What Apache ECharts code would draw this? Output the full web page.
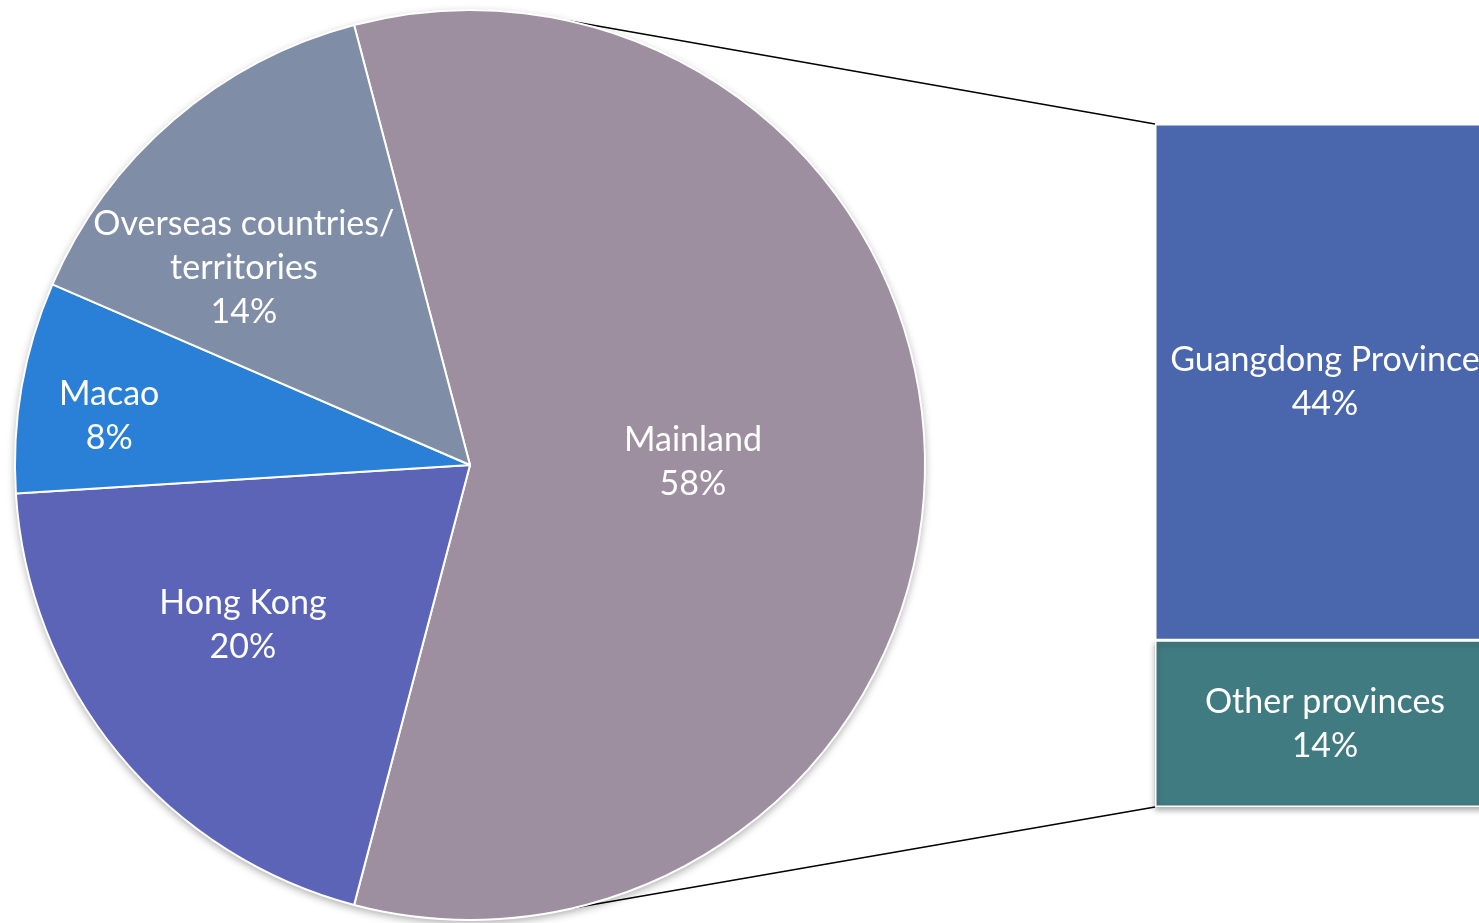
<!DOCTYPE html>
<html><head><meta charset="utf-8">
<script src="https://cdn.jsdelivr.net/npm/echarts@6/dist/echarts.min.js"></script>
<style>html,body{margin:0;padding:0;background:#fff}#c{width:1479px;height:923px}</style>
</head><body><div id="c"></div>
<script>
// ---- data ----
const pieCategories = ['Mainland', 'Hong Kong', 'Macao', 'Overseas countries/\nterritories'];
const pieValues = [58.2, 19.9, 7.5, 14.4];
const barCategories = ['Other provinces', 'Guangdong Province'];
const barValues = [14.2, 44.0];

// ---- styles / layout ----
const W = 1479;
const pieColors = ['#9E8FA0', '#5C64B7', '#2A7FD6', '#7F8DA6'];
const barColors = ['#417B82', '#4A66AD'];
const CX = 470, CY = 465, R = 455;
const labelOffsets = [[0.49, -0.007], [-0.499, 0.352], [-0.793, -0.108], [-0.497, -0.433]];
const BAR_LEFT = 1155, BAR_WIDTH = 340, BAR_TOP = 124, BAR_HEIGHT = 683;
const GRID = { left: 2 * BAR_LEFT + BAR_WIDTH - W, top: BAR_TOP, right: 0, height: BAR_HEIGHT };
const connectorAngles = [12.6, 166.7];
const FONT = 'Lato';
const labelStyle = { color: '#fff', fontFamily: FONT, fontSize: 34, lineHeight: 44 };

const chart = echarts.init(document.getElementById('c'));
const pieTotal = pieValues.reduce((a, b) => a + b, 0);
const barTotal = barValues.reduce((a, b) => a + b, 0);

function piePoint(deg) {
  const a = deg * Math.PI / 180;
  return [CX + R * Math.sin(a), CY - R * Math.cos(a)];
}
const p1 = piePoint(connectorAngles[0]);
const p2 = piePoint(connectorAngles[1]);

const barSeries = barCategories.map((name, i) => ({
  type: 'bar', name: name, stack: 'total', barWidth: BAR_WIDTH, clip: false, z: 3,
  data: [barValues[i]],
  itemStyle: Object.assign({ color: barColors[i], borderColor: '#fff', borderWidth: 1.5 },
    i === 0 ? { shadowBlur: 6, shadowOffsetY: 3, shadowOffsetX: 0, shadowColor: 'rgba(0,0,0,0.35)' } : {}),
  label: Object.assign({ show: true, position: 'inside', formatter: p => p.seriesName + '\n' + Math.round(p.value) + '%' }, labelStyle),
  emphasis: { disabled: true }
}));

chart.setOption({
  animation: false,
  backgroundColor: '#fff',
  grid: GRID,
  xAxis: { type: 'category', data: ['x'], show: false, boundaryGap: true },
  yAxis: { type: 'value', min: 0, max: barTotal, show: false },
  series: [
    {
      type: 'pie', center: [CX, CY], radius: R, silent: true, z: 1,
      data: [{ value: 1 }], label: { show: false }, labelLine: { show: false },
      itemStyle: { color: '#fff', shadowBlur: 8, shadowOffsetY: 3, shadowColor: 'rgba(0,0,0,0.35)' }
    },
    {
      type: 'pie', center: [CX, CY], radius: R, startAngle: pieValues[0] / pieTotal * 360 / 2, clockwise: true, z: 2,
      avoidLabelOverlap: false,
      data: pieCategories.map((c, i) => ({ name: c, value: pieValues[i], itemStyle: { color: pieColors[i] } })),
      itemStyle: { borderColor: '#fff', borderWidth: 2 },
      label: Object.assign({ show: true, position: 'inside', formatter: p => p.name + '\n' + Math.round(p.value) + '%' }, labelStyle),
      labelLine: { show: false },
      labelLayout: function (params) {
        const o = labelOffsets[params.dataIndex];
        return { x: CX + o[0] * R, y: CY + o[1] * R };
      },
      emphasis: { disabled: true }
    }
  ].concat(barSeries),
  graphic: [
    { type: 'line', shape: { x1: p1[0], y1: p1[1], x2: BAR_LEFT, y2: BAR_TOP }, style: { stroke: '#000', lineWidth: 1.5 }, z: 0 },
    { type: 'line', shape: { x1: p2[0], y1: p2[1], x2: BAR_LEFT, y2: BAR_TOP + BAR_HEIGHT }, style: { stroke: '#000', lineWidth: 1.5 }, z: 0 }
  ]
});
</script></body></html>
